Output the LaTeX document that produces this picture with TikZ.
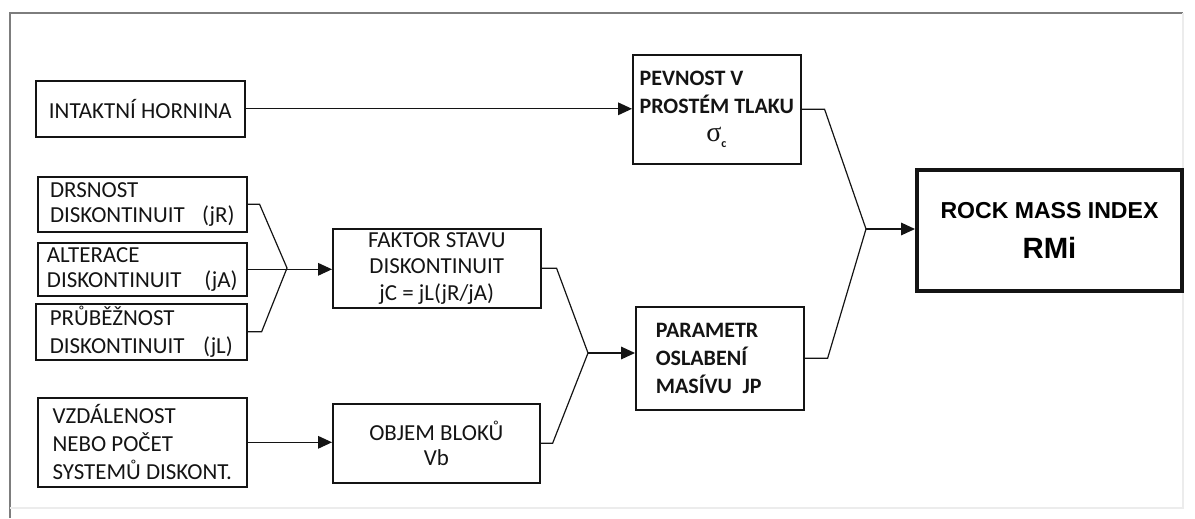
\documentclass[tikz,border=0pt]{standalone}
\usepackage{fontspec}
\setmainfont{Carlito}
\newfontfamily\arialfont{Liberation Sans}
\newfontfamily\symbfont{Liberation Serif}
\usetikzlibrary{arrows.meta,calc}
\definecolor{inkgray}{RGB}{20,20,20}
\definecolor{framegray}{RGB}{125,125,125}
\newcommand{\sigc}{{\symbfont\mdseries\fontsize{21}{21}\selectfont σ}\raisebox{-0.6ex}{\fontsize{9}{9}\selectfont c}}

\begin{document}
\begin{tikzpicture}[x=0.75pt,y=-0.75pt,>={Triangle[length=10.5pt,width=9.5pt]},
  font=\fontsize{17.2}{18.5}\selectfont,
  box/.style={draw=inkgray,line width=1.2pt,anchor=north west,align=left,text=inkgray,inner sep=0pt},
  wire/.style={draw=inkgray,line width=0.9pt}]
  \useasboundingbox (0,0) rectangle (1195,518);
  % frame
  \draw[framegray,line width=1.5pt] (10,518) -- (10,13) -- (1183,13);
  \draw[gray!15,line width=1pt] (1183,13) -- (1183,508) -- (10,508);

  % inputs
  \node[box,minimum width=156.75pt,minimum height=42pt] (intakt) at (35,80) {INTAKTNÍ HORNINA};
  \node[box,minimum width=156.75pt,minimum height=41.25pt] (drs) at (37,176) {DRSNOST\\DISKONTINUIT\hspace{13pt}(jR)};
  \node[box,minimum width=156.75pt,minimum height=39.75pt] (alt) at (37,242) {ALTERACE\\DISKONTINUIT\hspace{17pt}(jA)};
  \node[box,minimum width=158.25pt,minimum height=42pt,font=\fontsize{17.2}{21}\selectfont] (prub) at (35,303) {PRŮBĚŽNOST\\DISKONTINUIT\hspace{14pt}(jL)};
  \node[box,minimum width=156.75pt,minimum height=66.75pt,font=\fontsize{17.2}{21}\selectfont] (vzd) at (37,397) {VZDÁLENOST\\NEBO POČET\\SYSTEMŮ DISKONT.};

  % middle column
  \node[box,align=center,minimum width=156pt,minimum height=59.25pt,font=\fontsize{17.2}{20}\selectfont] (faktor) at (332,228) {FAKTOR STAVU\\DISKONTINUIT\\jC = jL(jR/jA)};
  \node[box,align=center,minimum width=155.25pt,minimum height=59.25pt] (objem) at (332,403) {OBJEM BLOKŮ\\Vb};
  \node[box,minimum width=126pt,minimum height=81.75pt,font=\bfseries\fontsize{16.5}{21}\selectfont] (pevn) at (632,54) {PEVNOST V\\PROSTÉM TLAKU\\\hspace*{50pt}\sigc};
  \node[box,minimum width=126pt,minimum height=77.25pt,text width=96pt,inner xsep=15pt,font=\bfseries\fontsize{16.5}{21}\selectfont] (param) at (635,306) {PARAMETR\\OSLABENÍ\\MASÍVU\hspace{8pt}JP};

  % result
  \node[box,line width=3pt,align=center,text=black,minimum width=198.75pt,minimum height=90.75pt,font=\arialfont\bfseries\fontsize{17.3}{30}\selectfont] (rmi) at (915,168) {ROCK MASS INDEX\\{\fontsize{22}{30}\selectfont RMi}};

  % connectors
  \coordinate (jfan) at (287,268);
  \coordinate (jmid) at (588,353);
  \coordinate (jrmi) at (866,229);
  \draw[wire,->] (intakt.east) -- (intakt.east -| pevn.west);
  \draw[wire] (drs.east) -- ++(12,0) -- (jfan);
  \draw[wire] (prub.east) -- ++(14,0) -- (jfan);
  \draw[wire,->] (alt.east) -- (alt.east -| faktor.west);
  \draw[wire,->] (vzd.east) -- (vzd.east -| objem.west);
  \draw[wire] (faktor.east) -- ++(15,0) -- (jmid);
  \draw[wire] (objem.east) -- ++(12,0) -- (jmid);
  \draw[wire,->] (jmid) -- (jmid -| param.west);
  \draw[wire] (pevn.east) -- ++(23,0) -- (jrmi);
  \draw[wire] (param.east) -- ++(23,0) -- (jrmi);
  \draw[wire,->] (jrmi) -- (jrmi -| rmi.west);
\end{tikzpicture}
\end{document}
